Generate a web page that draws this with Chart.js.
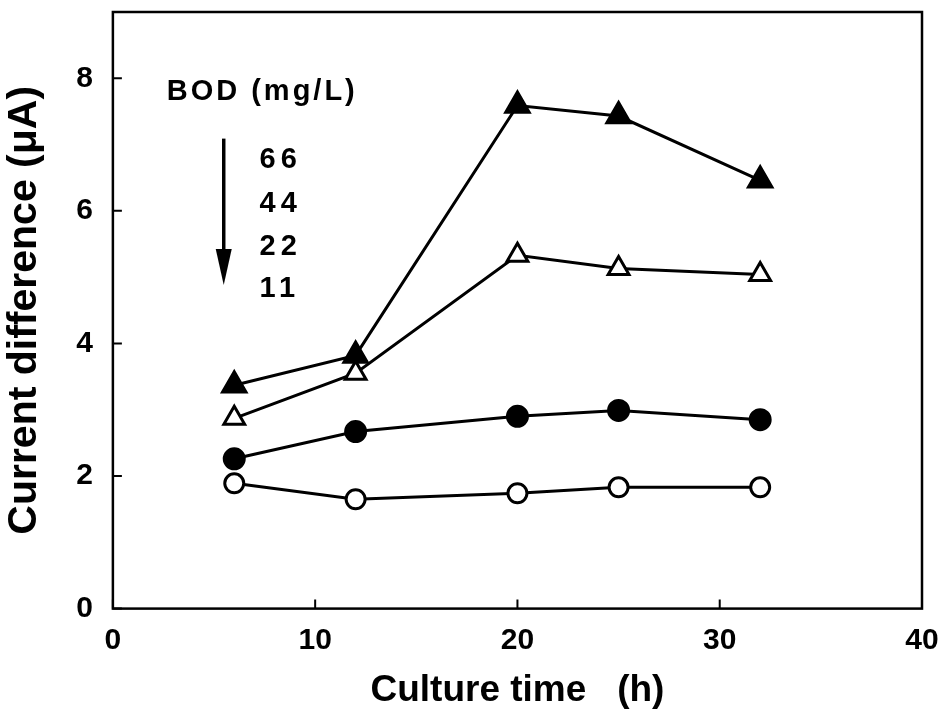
<!DOCTYPE html>
<html>
<head>
<meta charset="utf-8">
<script src="https://cdn.jsdelivr.net/npm/chart.js@4"></script>
<style>
  html, body { margin: 0; padding: 0; background: #fff; }
  #wrap { width: 938px; height: 715px; }
</style>
</head>
<body>
<div id="wrap"><canvas id="chart"></canvas></div>
<script>
// Culture time (h)
const hours = [6, 12, 20, 25, 32]
// Current difference (uA) per BOD level
const bod66 = [3.37, 3.82, 7.59, 7.43, 6.46]
const bod44 = [2.87, 3.55, 5.33, 5.13, 5.04]
const bod22 = [2.26, 2.67, 2.90, 2.99, 2.85]
const bod11 = [1.89, 1.65, 1.74, 1.83, 1.83]
const bodLabels = ['66', '44', '22', '11']
const xTicks = [0, 10, 20, 30, 40]
const yTicks = [0, 2, 4, 6, 8]

const FONT = "'Liberation Sans', Arial, Helvetica, sans-serif"

function toPoints(values) {
    return hours.map((h, i) => ({ x: h, y: values[i] }))
}

function series(label, values, style, filled, radius) {
    return {
        label: label,
        data: toPoints(values),
        borderColor: '#000',
        borderWidth: 3,
        pointStyle: style,
        pointRadius: radius,
        pointHoverRadius: radius,
        pointBorderWidth: 3,
        pointBackgroundColor: filled ? '#000' : '#fff',
        pointBorderColor: '#000',
        tension: 0
    }
}

// frame, inward ticks and the BOD note
const framePlugin = {
    id: 'frame',
    afterDraw(chart) {
        const { ctx, chartArea: a, scales: { x, y } } = chart
        ctx.save()
        ctx.strokeStyle = '#000'
        ctx.lineWidth = 2.5
        ctx.strokeRect(a.left, a.top, a.right - a.left, a.bottom - a.top)
        ctx.lineWidth = 2
        ctx.beginPath()
        xTicks.forEach(v => {
            const px = x.getPixelForValue(v)
            ctx.moveTo(px, a.bottom)
            ctx.lineTo(px, a.bottom - 9)
        })
        yTicks.forEach(v => {
            const py = y.getPixelForValue(v)
            ctx.moveTo(a.left, py)
            ctx.lineTo(a.left + 9, py)
        })
        ctx.stroke()

        ctx.fillStyle = '#000'
        ctx.textBaseline = 'middle'
        ctx.textAlign = 'left'
        ctx.font = 'bold 29px ' + FONT
        ctx.letterSpacing = '3px'
        ctx.fillText('BOD (mg/L)', x.getPixelForValue(2.66), y.getPixelForValue(7.79))
        ctx.letterSpacing = '5px'
        const rows = [6.76, 6.11, 5.46, 4.82]
        bodLabels.forEach((t, i) => {
            ctx.fillText(t, x.getPixelForValue(7.25), y.getPixelForValue(rows[i]))
        })
        ctx.letterSpacing = '0px'

        // arrow
        const ax = x.getPixelForValue(5.48)
        const top = y.getPixelForValue(7.09)
        const tip = y.getPixelForValue(4.88)
        ctx.lineWidth = 3.5
        ctx.beginPath()
        ctx.moveTo(ax, top)
        ctx.lineTo(ax, tip - 20)
        ctx.stroke()
        ctx.beginPath()
        ctx.moveTo(ax - 8, tip - 36)
        ctx.lineTo(ax + 8, tip - 36)
        ctx.lineTo(ax, tip)
        ctx.closePath()
        ctx.fill()
        ctx.restore()
    }
}

new Chart(document.getElementById('chart'), {
    type: 'line',
    data: {
        datasets: [
            series('66', bod66, 'triangle', true, 13.5),
            series('44', bod44, 'triangle', false, 12),
            series('22', bod22, 'circle', true, 10),
            series('11', bod11, 'circle', false, 9.5)
        ]
    },
    options: {
        responsive: true,
        maintainAspectRatio: false,
        animation: false,
        layout: { autoPadding: false, padding: { top: 12, right: 16, left: 0, bottom: 2 } },
        plugins: {
            legend: { display: false },
            tooltip: { enabled: false }
        },
        scales: {
            x: {
                type: 'linear',
                min: 0,
                max: 40,
                grid: { display: false },
                border: { display: false },
                afterFit(scale) {
                    scale.paddingLeft = 0
                    scale.paddingRight = 0
                },
                ticks: {
                    stepSize: 10,
                    padding: 6,
                    color: '#000',
                    font: { family: FONT, size: 30, weight: 'bold' }
                },
                title: {
                    display: true,
                    text: 'Culture time   (h)',
                    color: '#000',
                    padding: { top: 4, bottom: 0 },
                    font: { family: FONT, size: 37, weight: 'bold' }
                }
            },
            y: {
                min: 0,
                max: 9,
                grid: { display: false },
                border: { display: false },
                afterFit(scale) {
                    scale.paddingTop = 0
                    scale.paddingBottom = 0
                },
                ticks: {
                    stepSize: 2,
                    includeBounds: false,
                    padding: 12,
                    color: '#000',
                    font: { family: FONT, size: 30, weight: 'bold' }
                },
                title: {
                    display: true,
                    text: 'Current difference (\u03bcA)',
                    color: '#000',
                    padding: { top: 0, bottom: 15 },
                    font: { family: FONT, size: 41, weight: 'bold' }
                }
            }
        }
    },
    plugins: [framePlugin]
})
</script>
</body>
</html>
